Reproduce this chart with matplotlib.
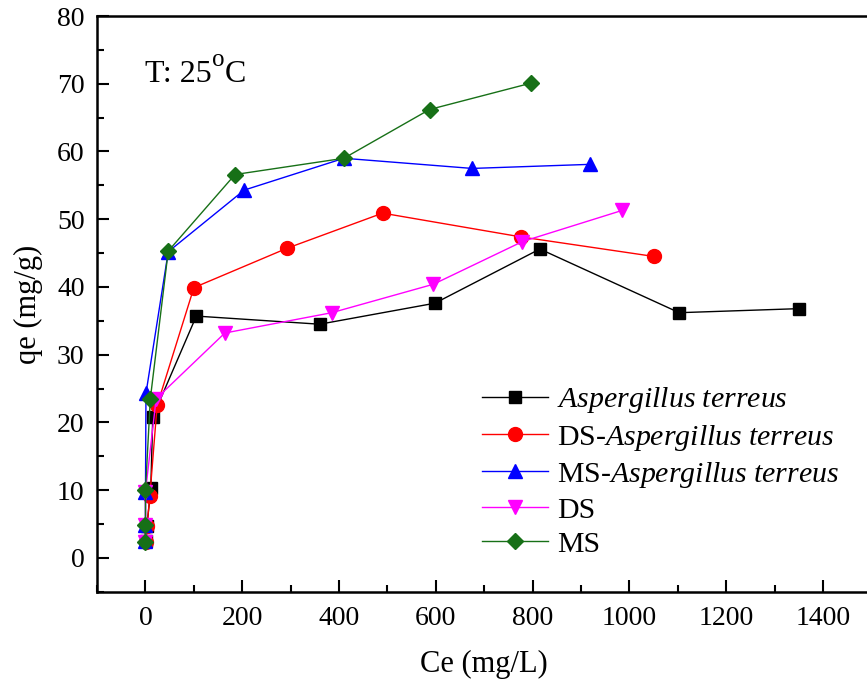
import matplotlib
matplotlib.use('Agg')
import matplotlib.pyplot as plt
from matplotlib.ticker import MultipleLocator

# Isotherm data at 25 C: equilibrium concentration Ce (mg/L) vs uptake qe (mg/g)
ce_at = [1, 3, 11, 15, 105, 360, 598, 815, 1103, 1351]
qe_at = [2.5, 4.7, 10.3, 20.8, 35.7, 34.5, 37.6, 45.6, 36.2, 36.8]

ce_ds_at = [2, 3, 9, 24, 100, 292, 490, 775, 1051]
qe_ds_at = [2.3, 4.7, 9.1, 22.5, 39.9, 45.7, 50.9, 47.4, 44.5]

ce_ms_at = [0, 0, 0, 1, 47, 204, 410, 675, 918]
qe_ms_at = [2.5, 4.8, 9.8, 24.3, 45.2, 54.3, 59.0, 57.5, 58.1]

ce_ds = [0, 0, 0, 22, 164, 385, 595, 779, 985]
qe_ds = [2.3, 4.8, 9.8, 23.5, 33.2, 36.2, 40.4, 46.7, 51.3]

ce_ms = [0, 0, 0, 10, 47, 185, 410, 587, 797]
qe_ms = [2.4, 4.9, 10.0, 23.5, 45.3, 56.6, 59.0, 66.2, 70.1]

plt.rcParams['font.family'] = 'Liberation Serif'
plt.rcParams['mathtext.fontset'] = 'custom'
plt.rcParams['mathtext.rm'] = 'Liberation Serif'
plt.rcParams['mathtext.it'] = 'Liberation Serif:italic'

fig = plt.figure(figsize=(8.67, 6.97), dpi=100)
ax = fig.add_axes([0.112, 0.151, 0.893, 0.826])

ms = 9
lw = 1.0
ax.plot(ce_at, qe_at, '-s', color='black', lw=lw, ms=ms,
        label=r'$\mathit{Aspergillus\ terreus}$')
ax.plot(ce_ds_at, qe_ds_at, '-o', color='#ff0000', lw=lw, ms=ms + 1,
        label=r'DS-$\mathit{Aspergillus\ terreus}$')
ax.plot(ce_ms_at, qe_ms_at, '-^', color='#0000ff', lw=lw, ms=ms + 1,
        label=r'MS-$\mathit{Aspergillus\ terreus}$')
ax.plot(ce_ds, qe_ds, '-v', color='#ff00ff', lw=lw, ms=ms + 1, label='DS')
ax.plot(ce_ms, qe_ms, '-D', color='#177017', lw=lw, ms=ms - 1, label='MS')

ax.set_xlim(-100, 1500)
ax.set_ylim(-5, 80)
ax.xaxis.set_major_locator(MultipleLocator(200))
ax.xaxis.set_minor_locator(MultipleLocator(100))
ax.yaxis.set_major_locator(MultipleLocator(10))
ax.yaxis.set_minor_locator(MultipleLocator(5))
ax.tick_params(which='both', direction='in', width=1.5, labelsize=20)
ax.tick_params(which='major', length=8.5)
ax.tick_params(which='minor', length=5)
ax.tick_params(axis='x', pad=10)
ax.tick_params(axis='y', pad=9)
for sp in ax.spines.values():
    sp.set_linewidth(1.8)

ax.set_xlabel('Ce (mg/L)', fontsize=22, labelpad=14)
ax.set_ylabel('qe (mg/g)', fontsize=22, labelpad=10)

# temperature note, built in pieces so the degree "o" sits large and raised
t1 = ax.text(0.062, 0.885, 'T: 25', transform=ax.transAxes,
             fontsize=23, va='baseline', ha='left')
t2 = ax.annotate('o', xy=(1.0, 0.62), xycoords=t1, fontsize=18,
                 va='bottom', ha='left')
ax.annotate('C', xy=(1.0, 0.0), xycoords=(t2, t1), fontsize=23,
            va='bottom', ha='left')

ax.legend(loc='upper left', bbox_to_anchor=(0.556, 0.447),
          bbox_transform=fig.transFigure, frameon=False, fontsize=21.5,
          handlelength=2.2, handletextpad=0.3, labelspacing=0.24,
          borderpad=0, borderaxespad=0)

fig.savefig('out.png', dpi=100)
